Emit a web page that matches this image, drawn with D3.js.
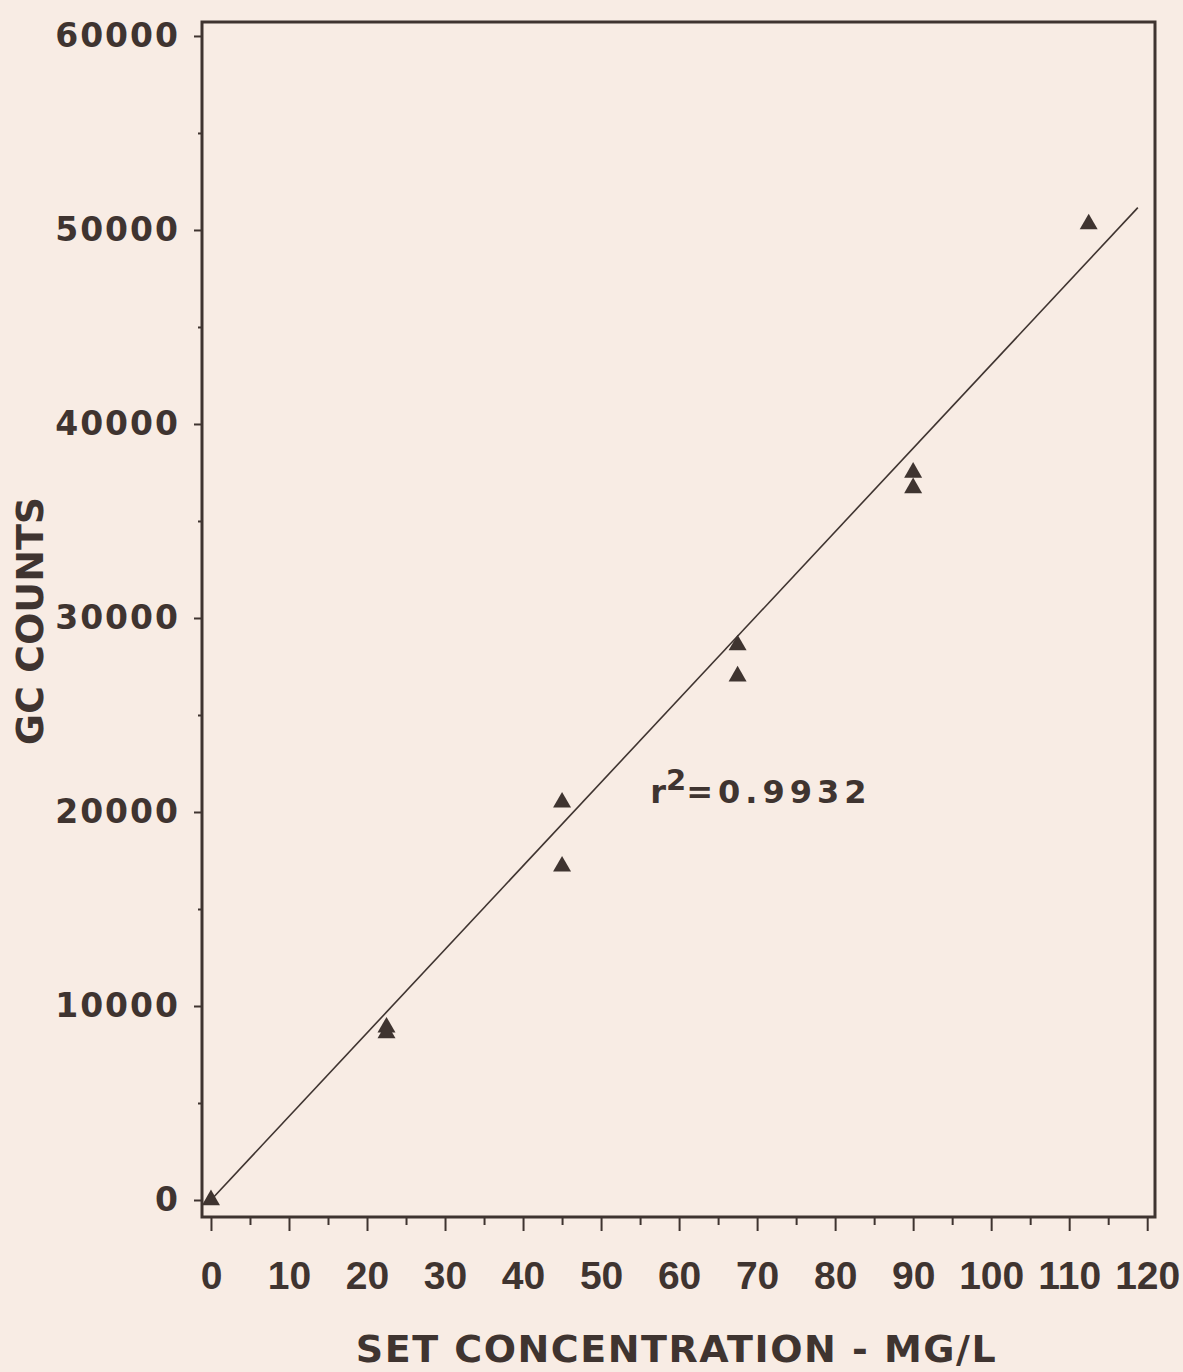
<!DOCTYPE html>
<html>
<head>
<meta charset="utf-8">
<script src="https://cdn.jsdelivr.net/npm/d3@7"></script>
<style>
  html, body { margin: 0; padding: 0; background: #f8ece4; }
  #chart { width: 1183px; height: 1372px; }
</style>
</head>
<body>
<div id="chart"></div>
<script>
// measured points (set concentration mg/L, GC counts)
const concentration = [0, 22.5, 22.5, 45, 45, 67.5, 67.5, 90, 90, 112.5];
const gcCounts = [0, 8900, 8600, 20500, 17200, 28600, 27000, 37500, 36700, 50300];

// fitted line as drawn
const fitX = [0, 118.8];
const fitY = [0, 51150];

const xTicks = [0, 10, 20, 30, 40, 50, 60, 70, 80, 90, 100, 110, 120];
const xMinorTicks = [5, 15, 25, 35, 45, 55, 65, 75, 85, 95, 105, 115];
const yTicks = [0, 10000, 20000, 30000, 40000, 50000, 60000];
const yMinorTicks = [5000, 15000, 25000, 35000, 45000, 55000];

const xLabel = "SET CONCENTRATION - MG/L";
const yLabel = "GC COUNTS";
const rSquared = "0.9932";
const rSquaredAt = [56.3, 20450];

function ScatterChart(id, {
    width = 1183,
    height = 1372,
    marginTop = 22,
    marginRight = 28,
    marginBottom = 155,
    marginLeft = 202,
    xDomain = [-1.15, 121.0],
    yDomain = [-876, 60720],
    ink = "#3f3430",
    paper = "#f8ece4",
    font = "'DejaVu Sans', sans-serif",
    tickFont = "'Liberation Sans', Arial, sans-serif"
  } = {}) {
    const xScale = d3.scaleLinear(xDomain, [marginLeft, width - marginRight]);
    const yScale = d3.scaleLinear(yDomain, [height - marginBottom, marginTop]);

    const svg = d3.select(id)
      .append("svg")
      .attr("width", width)
      .attr("height", height)
      .attr("viewBox", [0, 0, width, height]);

    svg.append("rect")
      .attr("width", width)
      .attr("height", height)
      .attr("fill", paper);

    const bottom = height - marginBottom;

    // x axis: major + minor ticks hanging under the frame
    svg.append("g")
      .attr("transform", `translate(0,${bottom})`)
      .call(d3.axisBottom(xScale).tickValues(xMinorTicks).tickSize(8).tickFormat(""))
      .call(g => g.select(".domain").remove())
      .call(g => g.selectAll(".tick line").attr("stroke", ink).attr("stroke-width", 2));

    svg.append("g")
      .attr("transform", `translate(0,${bottom})`)
      .call(d3.axisBottom(xScale).tickValues(xTicks).tickSize(14).tickPadding(30))
      .call(g => g.select(".domain").remove())
      .call(g => g.selectAll(".tick line").attr("stroke", ink).attr("stroke-width", 2))
      .call(g => g.selectAll(".tick text")
        .attr("fill", ink)
        .attr("font-family", tickFont)
        .attr("font-weight", "bold")
        .attr("font-size", 39));

    // y axis
    svg.append("g")
      .attr("transform", `translate(${marginLeft},0)`)
      .call(d3.axisLeft(yScale).tickValues(yMinorTicks).tickSize(4).tickFormat(""))
      .call(g => g.select(".domain").remove())
      .call(g => g.selectAll(".tick line").attr("stroke", ink).attr("stroke-width", 2));

    svg.append("g")
      .attr("transform", `translate(${marginLeft},0)`)
      .call(d3.axisLeft(yScale).tickValues(yTicks).tickSize(8).tickPadding(14).tickFormat(d3.format("d")))
      .call(g => g.select(".domain").remove())
      .call(g => g.selectAll(".tick line").attr("stroke", ink).attr("stroke-width", 2))
      .call(g => g.selectAll(".tick text")
        .attr("fill", ink)
        .attr("font-family", font)
        .attr("font-weight", "bold")
        .attr("font-size", 33)
        .attr("letter-spacing", 2));

    // frame
    svg.append("rect")
      .attr("x", marginLeft)
      .attr("y", marginTop)
      .attr("width", width - marginLeft - marginRight)
      .attr("height", bottom - marginTop)
      .attr("fill", "none")
      .attr("stroke", ink)
      .attr("stroke-width", 3);

    // fitted line
    const line = d3.line()
      .x(i => xScale(fitX[i]))
      .y(i => yScale(fitY[i]));

    svg.append("path")
      .attr("fill", "none")
      .attr("stroke", ink)
      .attr("stroke-width", 1.6)
      .attr("d", line(d3.range(fitX.length)));

    // points
    svg.append("g")
      .attr("fill", ink)
      .selectAll("path")
      .data(d3.range(concentration.length))
      .join("path")
      .attr("transform", i => `translate(${xScale(concentration[i])},${yScale(gcCounts[i])})`)
      .attr("d", d3.symbol(d3.symbolTriangle, 140));

    // r squared note
    const note = svg.append("text")
      .attr("x", xScale(rSquaredAt[0]))
      .attr("y", yScale(rSquaredAt[1]))
      .attr("fill", ink)
      .attr("font-family", font)
      .attr("font-weight", "bold")
      .attr("font-size", 32);
    note.append("tspan").text("r");
    note.append("tspan").attr("dy", -13).attr("font-size", 29).text("2");
    note.append("tspan").attr("dy", 13).attr("letter-spacing", 5).text("=" + rSquared);

    // axis titles
    svg.append("text")
      .attr("x", (marginLeft + width - marginRight) / 2 - 2)
      .attr("y", 1362)
      .attr("text-anchor", "middle")
      .attr("fill", ink)
      .attr("font-family", font)
      .attr("font-weight", "bold")
      .attr("font-size", 38)
      .attr("letter-spacing", 1.5)
      .text(xLabel);

    svg.append("text")
      .attr("transform", `translate(43,621) rotate(-90)`)
      .attr("text-anchor", "middle")
      .attr("fill", ink)
      .attr("font-family", font)
      .attr("font-weight", "bold")
      .attr("font-size", 38)
      .text(yLabel);

    return { svg, xScale, yScale };
  }

ScatterChart("#chart");
</script>
</body>
</html>
